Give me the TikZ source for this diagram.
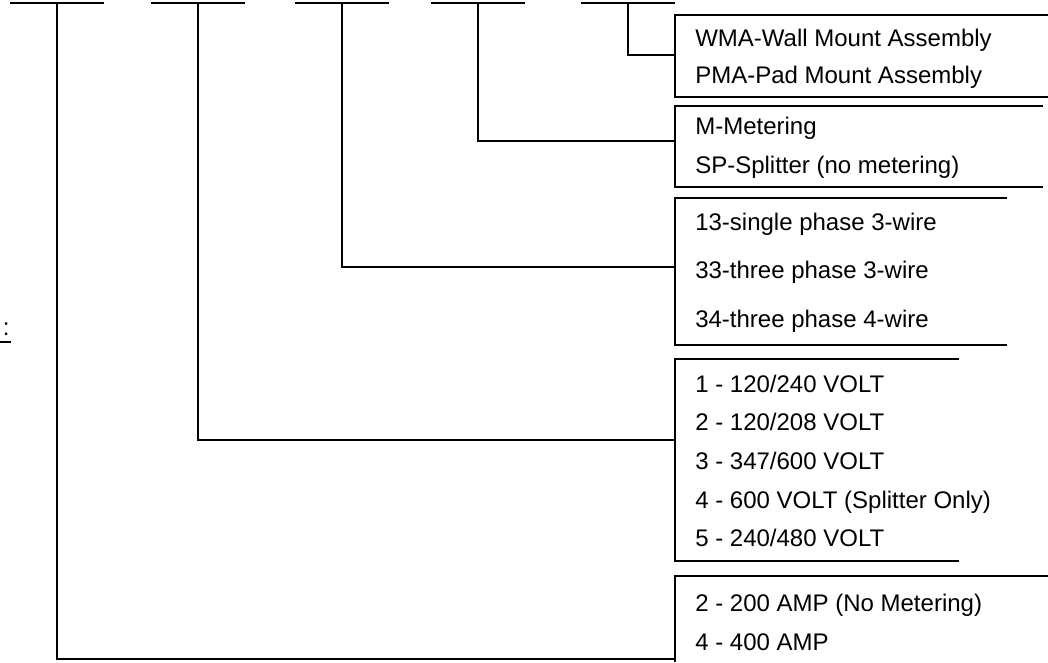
\documentclass[tikz,border=0pt]{standalone}
\usepackage{fontspec}
\setmainfont{Liberation Sans}

\tikzset{
  rule/.style = { line width = 2.2pt },
  bracket/.style = { line width = 2pt },
  opt/.style = { anchor = base west, inner sep = 0pt, font = \fontsize{18pt}{22pt}\selectfont }
}

\begin{document}
\begin{tikzpicture}[x = 0.75pt, y = -0.75pt]
  \useasboundingbox (0,0) rectangle (1048,662);

  % blanks of the code
  \foreach \x [count = \i] in {57,198,342,478,628} {
    \coordinate (b\i) at (\x,3);
    \draw[rule] (\x-47,3) -- (\x+47,3);
  }

  % brackets
  \draw[bracket] (1048,15) -| (675,97) -- (1048,97);
  \draw[bracket] (1043,106) -| (675,187) -- (1043,187);
  \draw[bracket] (1007,198) -| (675,345) -- (1007,345);
  \draw[bracket] (959,359) -| (675,561) -- (959,561);
  \draw[bracket] (1048,576) -| (675,662);

  \coordinate (mount) at (675,55);
  \coordinate (meter) at (675,141);
  \coordinate (wire)  at (675,267);
  \coordinate (volt)  at (675,440);
  \coordinate (amp)   at (675,659);

  \draw[rule] (b5) |- (mount);
  \draw[rule] (b4) |- (meter);
  \draw[rule] (b3) |- (wire);
  \draw[rule] (b2) |- (volt);
  \draw[rule] (b1) |- (amp);

  \node[opt] (mount1) at (695,46) {WMA-Wall Mount Assembly};
  \node[opt] (mount2) at (695,83) {PMA-Pad Mount Assembly};

  \node[opt] (meter1) at (695,134) {M-Metering};
  \node[opt] (meter2) at (695,173) {SP-Splitter (no metering)};

  \node[opt] (wire1) at (695,230) {13-single phase 3-wire};
  \node[opt] (wire2) at (695,278) {33-three phase 3-wire};
  \node[opt] (wire3) at (695,327) {34-three phase 4-wire};

  \node[opt] (volt1) at (695,392) {1 - 120/240 VOLT};
  \node[opt] (volt2) at (695,430) {2 - 120/208 VOLT};
  \node[opt] (volt3) at (695,469) {3 - 347/600 VOLT};
  \node[opt] (volt4) at (695,508) {4 - 600 VOLT (Splitter Only)};
  \node[opt] (volt5) at (695,546) {5 - 240/480 VOLT};

  \node[opt] (amp1) at (695,611) {2 - 200 AMP (No Metering)};
  \node[opt] (amp2) at (695,650) {4 - 400 AMP};

  % tail of the cut-off heading
  \node[opt] (head) at (2.5,335) {:};
  \draw[line width = 1.5pt] (0,342) -- (11,342);
\end{tikzpicture}
\end{document}
